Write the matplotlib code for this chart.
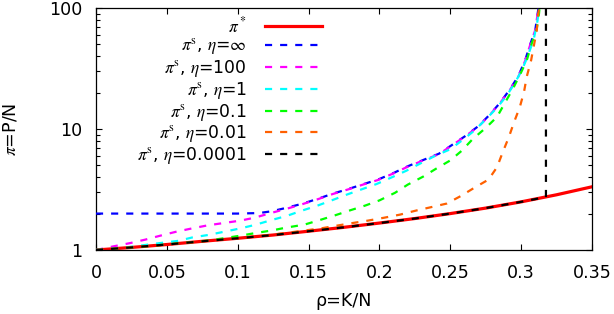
import matplotlib
matplotlib.use("Agg")
import matplotlib.pyplot as plt
from matplotlib.font_manager import FontProperties
from matplotlib.ticker import LogLocator, NullFormatter

# ---- data ----
rho_star = [0.0, 0.025, 0.05, 0.075, 0.1, 0.125, 0.15, 0.175, 0.2, 0.225, 0.25, 0.275, 0.3, 0.325, 0.35]
pi_star = [1.0, 1.05, 1.11, 1.18, 1.25, 1.33, 1.43, 1.54, 1.67, 1.82, 2.0, 2.22, 2.5, 2.86, 3.33]

rho_inf = [0.0, 0.05, 0.1, 0.115, 0.124, 0.135, 0.146, 0.157, 0.167, 0.178, 0.189, 0.199, 0.21, 0.22,
           0.231, 0.242, 0.251, 0.26, 0.27, 0.278, 0.285, 0.292, 0.298, 0.303, 0.306, 0.31, 0.312, 0.3135]
pi_inf = [2.0, 2.0, 2.0, 2.02, 2.09, 2.24, 2.42, 2.66, 2.92, 3.19, 3.51, 3.82, 4.33, 4.92,
          5.55, 6.25, 7.35, 8.65, 10.6, 13.2, 16.4, 21.2, 27.3, 37.5, 48.5, 66.0, 96.0, 115.0]

rho_100 = [0.0, 0.012, 0.024, 0.035, 0.045, 0.057, 0.068, 0.079, 0.09, 0.102, 0.112, 0.124, 0.135, 0.146,
           0.157, 0.167, 0.178, 0.189, 0.199, 0.21, 0.22, 0.231, 0.242, 0.251, 0.26, 0.27, 0.278, 0.285,
           0.292, 0.298, 0.303, 0.306, 0.31, 0.312, 0.3135]
pi_100 = [1.0, 1.07, 1.14, 1.22, 1.31, 1.42, 1.51, 1.6, 1.67, 1.75, 1.85, 2.03, 2.2, 2.4,
          2.64, 2.9, 3.17, 3.49, 3.79, 4.3, 4.88, 5.5, 6.2, 7.3, 8.6, 10.5, 13.1, 16.3,
          21.0, 27.0, 37.0, 48.0, 66.0, 96.0, 115.0]

rho_1 = [0.0, 0.024, 0.045, 0.058, 0.068, 0.079, 0.091, 0.102, 0.112, 0.124, 0.135, 0.145, 0.156, 0.167,
         0.177, 0.188, 0.198, 0.209, 0.219, 0.229, 0.239, 0.25, 0.258, 0.267, 0.275, 0.283, 0.29, 0.296,
         0.301, 0.305, 0.309, 0.3115, 0.3135]
pi_1 = [1.0, 1.06, 1.14, 1.19, 1.27, 1.33, 1.42, 1.51, 1.61, 1.77, 1.92, 2.11, 2.32, 2.59,
        2.87, 3.19, 3.51, 4.0, 4.52, 5.2, 5.98, 6.8, 8.0, 9.7, 12.0, 15.0, 19.0, 24.5,
        31.5, 41.0, 56.0, 78.0, 115.0]

rho_01 = [0.0, 0.03, 0.06, 0.08, 0.092, 0.103, 0.114, 0.124, 0.134, 0.147, 0.158, 0.169, 0.18, 0.19,
          0.2, 0.211, 0.22, 0.231, 0.24, 0.25, 0.258, 0.266, 0.275, 0.283, 0.289, 0.294, 0.299, 0.304,
          0.3075, 0.311, 0.3126, 0.3135]
pi_01 = [1.0, 1.06, 1.14, 1.2, 1.26, 1.32, 1.39, 1.45, 1.53, 1.62, 1.77, 1.94, 2.14, 2.33,
         2.57, 2.97, 3.47, 4.05, 4.7, 5.5, 6.6, 8.3, 10.2, 12.6, 16.8, 21.3, 27.8, 37.0,
         51.0, 67.0, 90.0, 115.0]

rho_001 = [0.0, 0.05, 0.1, 0.125, 0.1475, 0.159, 0.17, 0.181, 0.192, 0.2035, 0.2145, 0.226, 0.2365, 0.2475,
           0.2576, 0.267, 0.277, 0.283, 0.287, 0.2913, 0.295, 0.299, 0.302, 0.304, 0.307, 0.309, 0.311,
           0.312, 0.3135]
pi_001 = [1.0, 1.11, 1.25, 1.34, 1.45, 1.51, 1.59, 1.67, 1.75, 1.85, 1.96, 2.12, 2.26, 2.42,
          2.8, 3.27, 3.82, 4.84, 6.43, 8.55, 11.4, 15.1, 20.2, 27.2, 36.8, 49.0, 65.0,
          89.0, 115.0]

rho_00001 = [0.0, 0.025, 0.05, 0.075, 0.1, 0.125, 0.15, 0.175, 0.2, 0.225, 0.25, 0.275, 0.3, 0.3175, 0.3175]
pi_00001 = [1.0, 1.05, 1.11, 1.18, 1.25, 1.33, 1.43, 1.54, 1.67, 1.82, 2.0, 2.22, 2.5, 2.74, 100.0]

x_ticks = [0, 0.05, 0.1, 0.15, 0.2, 0.25, 0.3, 0.35]
x_tick_labels = ["0", "0.05", "0.1", "0.15", "0.2", "0.25", "0.3", "0.35"]
y_ticks = [1, 10, 100]
y_tick_labels = ["1", "10", "100"]

labels = [r"$\pi^*$",
          r"$\pi^{\rm s}$, $\eta$=$\infty$",
          r"$\pi^{\rm s}$, $\eta$=100",
          r"$\pi^{\rm s}$, $\eta$=1",
          r"$\pi^{\rm s}$, $\eta$=0.1",
          r"$\pi^{\rm s}$, $\eta$=0.01",
          r"$\pi^{\rm s}$, $\eta$=0.0001"]
colors = ["#ff0000", "#0000ff", "#ff00ff", "#00ffff", "#00ff00", "#ff6000", "#000000"]

# ---- figure ----
W, H = 614, 314
fig = plt.figure(figsize=(W / 100, H / 100), dpi=100)
L, R, B, T = 96, 592, 250, 8
ax = fig.add_axes([L / W, (H - B) / H, (R - L) / W, (B - T) / H])

fp_tick = FontProperties(family="DejaVu Sans", size=12.6)
fp_leg = FontProperties(family="DejaVu Sans", size=12.4, math_fontfamily="stix")
fp_lab = FontProperties(family="DejaVu Sans", size=12.6, math_fontfamily="stix")

dash = (3.2, 3.6)
series = [(rho_inf, pi_inf), (rho_100, pi_100), (rho_1, pi_1), (rho_01, pi_01),
          (rho_001, pi_001), (rho_00001, pi_00001)]

ax.plot(rho_star, pi_star, color=colors[0], lw=2.3, label=labels[0], zorder=2)
for (xs, ys), c, lab in zip(series, colors[1:], labels[1:]):
    ax.plot(xs, ys, color=c, lw=1.6, linestyle=(0, dash), label=lab, zorder=3)

ax.set_xlim(0, 0.35)
ax.set_yscale("log")
ax.set_ylim(1, 100)

ax.set_xticks(x_ticks)
ax.set_xticklabels(x_tick_labels, fontproperties=fp_tick)
ax.set_yticks(y_ticks)
ax.set_yticklabels(y_tick_labels, fontproperties=fp_tick)
ax.yaxis.set_minor_locator(LogLocator(base=10, subs=range(2, 10)))
ax.yaxis.set_minor_formatter(NullFormatter())

ax.tick_params(which="both", direction="in", top=True, right=True, width=0.8, color="black")
ax.tick_params(which="major", length=4.5)
ax.tick_params(which="minor", length=2.6)
ax.tick_params(axis="x", pad=10)
ax.tick_params(axis="y", pad=10)
for s in ax.spines.values():
    s.set_linewidth(0.9)

ax.set_xlabel("ρ=K/N", fontproperties=fp_lab, labelpad=7)
ax.set_ylabel(r"$\pi$=P/N", fontproperties=fp_lab)
ax.yaxis.set_label_coords((20 - L) / (R - L), 0.5)

leg = ax.legend(loc="upper right", bbox_to_anchor=(322 / W, (H - 16) / H),
                bbox_transform=fig.transFigure, prop=fp_leg, frameon=False,
                markerfirst=False, handlelength=3.3, handletextpad=1.05,
                labelspacing=0.04, borderpad=0, borderaxespad=0)

fig.savefig("out.png", dpi=100)
